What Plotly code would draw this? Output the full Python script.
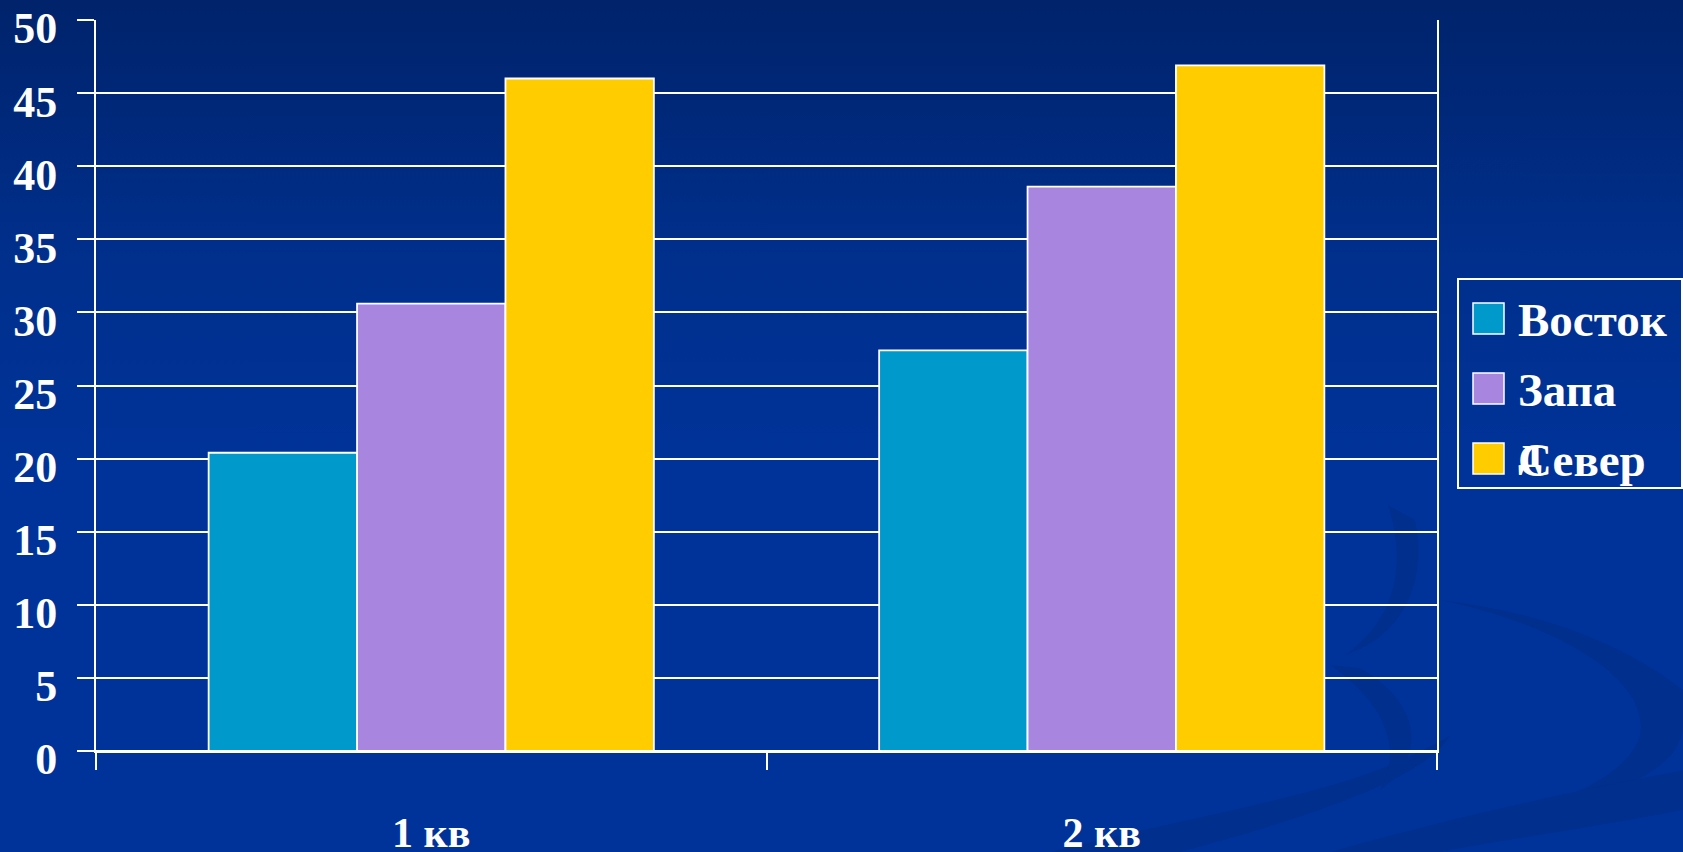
import base64
import plotly.graph_objects as go

# ---- data ----
categories = ["1 кв", "2 кв"]
series_names = ["Восток", "Запад", "Север"]
vostok = [20.4, 27.4]
zapad = [30.6, 38.6]
sever = [46.0, 46.9]
series_values = [vostok, zapad, sever]
colors = ["#0099CC", "#A886E0", "#FFCC00"]
y_ticks = [0, 5, 10, 15, 20, 25, 30, 35, 40, 45, 50]

W, H = 1683, 852
ML, MR, MT, MB = 96, 246, 20, 101
PW, PH = W - ML - MR, H - MT - MB
FONT = "Liberation Serif, Times New Roman, serif"

# ---- background (gradient + soft swooshes) as an SVG image ----
svg = f'''<svg xmlns="http://www.w3.org/2000/svg" width="{W}" height="{H}" viewBox="0 0 {W} {H}">
<defs><linearGradient id="g" x1="0" y1="0" x2="0" y2="1">
<stop offset="0" stop-color="#00236B"/>
<stop offset="0.3" stop-color="#002F8C"/>
<stop offset="0.55" stop-color="#003399"/>
<stop offset="1" stop-color="#003399"/>
</linearGradient></defs>
<rect width="{W}" height="{H}" fill="url(#g)"/>
<g fill="#002A80" opacity="0.4">
<path d="M1440,600 C1560,625 1650,680 1640,735 C1630,770 1580,795 1520,812 C1610,800 1683,770 1683,725 L1683,690 C1620,640 1530,610 1440,600 Z"/>
<path d="M1050,852 C1200,815 1320,795 1390,765 C1420,752 1440,742 1450,735 C1430,775 1320,815 1180,852 Z"/>
<path d="M1330,852 C1460,815 1580,790 1683,770 L1683,810 C1590,828 1490,842 1440,852 Z"/>
<path d="M1388,505 C1405,560 1400,615 1345,655 C1395,640 1430,590 1415,520 Z"/>
<path d="M1330,665 C1380,700 1405,745 1380,790 C1425,760 1425,705 1360,668 Z"/>
</g>
</svg>'''
svg_uri = "data:image/svg+xml;base64," + base64.b64encode(svg.encode("utf-8")).decode("ascii")

fig = go.Figure()
for name, vals, col in zip(series_names, series_values, colors):
    fig.add_trace(go.Bar(
        x=categories, y=vals, name=name,
        marker=dict(color=col, line=dict(color="white", width=1.8)),
        showlegend=False,
    ))

# ---- custom legend (large swatches, as in the reference) ----
shapes = []
annotations = []
leg_x0, leg_y0, leg_x1, leg_y1 = 1458, 279, 1682, 488
def px(x):
    return (x - ML) / PW
def py(y):
    return 1 - (y - MT) / PH

shapes.append(dict(type="rect", xref="paper", yref="paper",
                   x0=px(leg_x0), x1=px(leg_x1), y0=py(leg_y1), y1=py(leg_y0),
                   line=dict(color="white", width=2), fillcolor="rgba(0,0,0,0)", layer="above"))
labels = ["Восток", "Запа<br>д", "Север"]
for i, (name, col) in enumerate(zip(series_names, colors)):
    top = 303 + 70 * i
    shapes.append(dict(type="rect", xref="paper", yref="paper",
                       x0=px(1473), x1=px(1504), y0=py(top + 31), y1=py(top),
                       line=dict(color="white", width=1.5), fillcolor=col, layer="above"))
    lbl = labels[i] if labels[i].replace("<br>", "") == name else name
    annotations.append(dict(xref="paper", yref="paper", x=px(1516), y=py(top - 11),
                            xanchor="left", yanchor="top", text=lbl, showarrow=False,
                            align="left",
                            font=dict(family=FONT, size=47, color="white", weight="bold")))

fig.update_layout(
    width=W, height=H,
    margin=dict(l=ML, r=MR, t=MT, b=MB, pad=0, autoexpand=False),
    paper_bgcolor="#003399",
    plot_bgcolor="rgba(0,0,0,0)",
    barmode="group",
    bargap=0.336,
    bargroupgap=0,
    showlegend=False,
    shapes=shapes,
    annotations=annotations,
    images=[dict(source=svg_uri, xref="paper", yref="paper",
                 x=-ML / PW, y=1 + MT / PH, sizex=W / PW, sizey=H / PH,
                 xanchor="left", yanchor="top", sizing="stretch", layer="below")],
    font=dict(family=FONT, size=45, color="white", weight="bold"),
)
fig.update_yaxes(
    range=[0, 50], tickvals=y_ticks, ticktext=[str(v) for v in y_ticks],
    automargin=False,
    showgrid=True, gridcolor="white", gridwidth=2,
    zeroline=True, zerolinecolor="white", zerolinewidth=2,
    showline=True, linecolor="white", linewidth=2, mirror=True,
    ticks="outside", ticklen=17, tickwidth=2, tickcolor="white",
    ticklabelstandoff=11, ticklabelshift=8, ticklabeloverflow="allow",
    tickfont=dict(family=FONT, size=44, color="white", weight="bold"),
    fixedrange=True,
)
fig.update_xaxes(
    type="category",
    automargin=False,
    showline=True, linecolor="white", linewidth=2,
    ticks="outside", ticklen=17, tickwidth=2, tickcolor="white",
    tickson="boundaries",
    ticklabelstandoff=44, ticklabeloverflow="allow",
    tickfont=dict(family=FONT, size=42, color="white", weight="bold"),
    showgrid=False,
    fixedrange=True,
)

fig.write_html("out.html", config={"displayModeBar": False},
               post_script="document.body.style.margin='0';document.body.style.overflow='hidden';")
